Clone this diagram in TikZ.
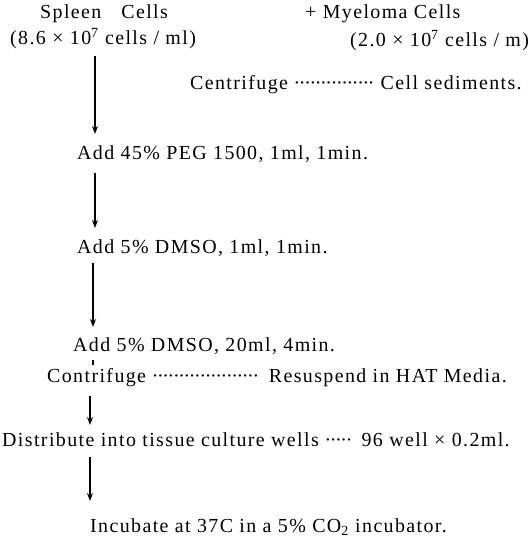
\documentclass[tikz,border=0pt]{standalone}
\usepackage{fontspec}
\setmainfont{Liberation Serif}[LetterSpace=7]
\usetikzlibrary{arrows.meta}

% row of centred dots of a given width
\newcommand{\dotrun}[1]{\makebox[#1]{\leaders\hbox to 5.3bp{\hss·\hss}\hfill}}

\tikzset{
  steptext/.style={anchor=base west, inner sep=0pt, font=\fontsize{20}{23}\selectfont},
  flow/.style={line width=1.2bp, -{Stealth[length=8bp,width=6bp]}},
  tick/.style={line width=1.2bp}
}

\begin{document}
\begin{tikzpicture}[x=1bp,y=-1bp]
    % page frame
    \useasboundingbox (0,0) rectangle (529,539);
    % arrow columns
    \coordinate (c1) at (95,0);
    \coordinate (c2) at (93,0);
    \coordinate (c3) at (90,0);
    % starting cells
    \node[steptext] (spleen) at (40,19) {Spleen\quad Cells};
    \node[steptext] (myeloma) at (305,19) {+ Myeloma Cells};
    \node[steptext] (dens1) at (10,45) {(8.6 × 10\textsuperscript{7} cells / ml)};
    \node[steptext] (dens2) at (350,47) {(2.0 × 10\textsuperscript{7} cells / m)};
    % steps
    \node[steptext] (spin1) at (190,90) {Centrifuge \dotrun{80bp} Cell sediments.};
    \node[steptext] (peg) at (77,160) {Add 45\% PEG 1500, 1ml, 1min.};
    \node[steptext] (dmso1) at (77,253) {Add 5\% DMSO, 1ml, 1min.};
    \node[steptext] (dmso2) at (73,351) {Add 5\% DMSO, 20ml, 4min.};
    \node[steptext] (spin2) at (47,382) {Contrifuge \dotrun{110bp} Resuspend in HAT Media.};
    \node[steptext] (wells) at (2,446) {Distribute into tissue culture wells \dotrun{30bp} 96 well × 0.2ml.};
    \node[steptext] (incub) at (90,532) {Incubate at 37C in a 5\% CO\textsubscript{2} incubator.};
    % arrows
    \draw[flow] ([yshift=-7bp]dens1.south -| c1) -- ([yshift=12bp]peg.north -| c1);
    \draw[flow] ([yshift=-10bp]peg.south -| c1) -- ([yshift=11bp]dmso1.north -| c1);
    \draw[flow] ([yshift=-7bp]dmso1.south -| c2) -- ([yshift=10bp]dmso2.north -| c2);
    \draw[tick] ([yshift=-6bp]dmso2.south -| c2) -- ([yshift=3bp]spin2.north -| c2);
    \draw[flow] ([yshift=-9bp]spin2.south -| c3) -- ([yshift=7bp]wells.north -| c3);
    \draw[flow] ([yshift=-11bp]wells.south -| c3) -- ([yshift=17bp]incub.north -| c3);
\end{tikzpicture}
\end{document}
